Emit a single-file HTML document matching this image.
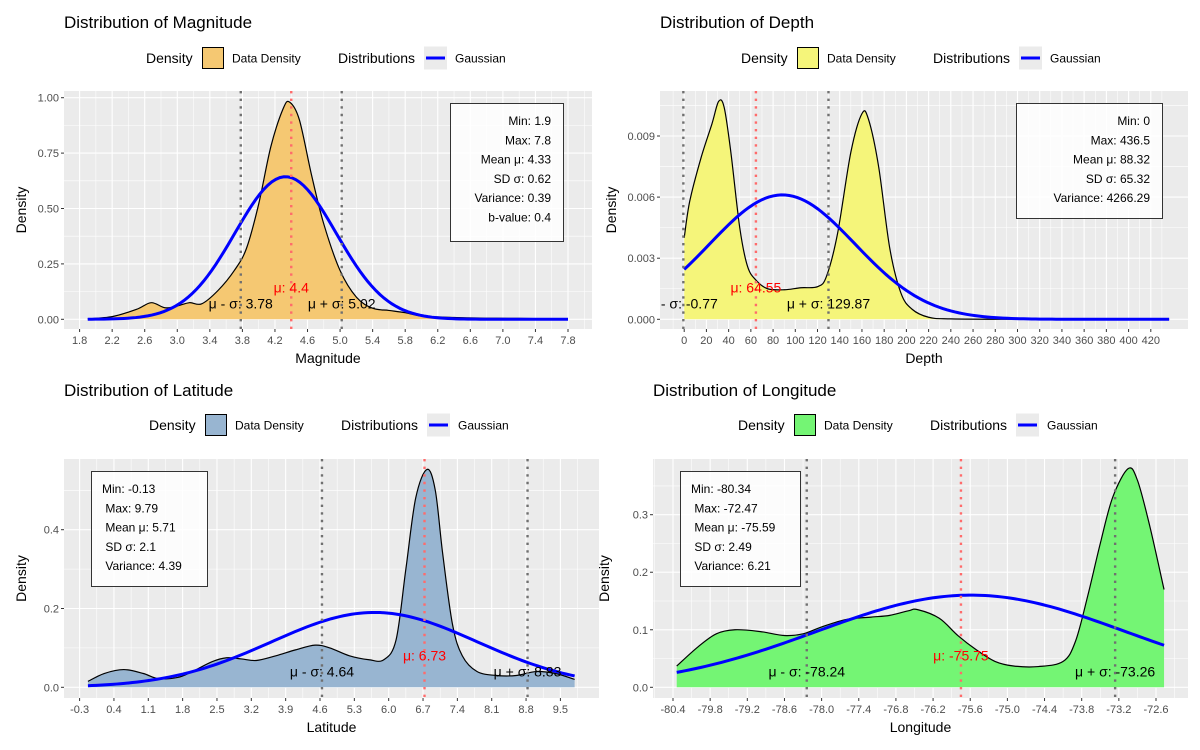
<!DOCTYPE html>
<html><head><meta charset="utf-8"><style>
body{margin:0;background:#fff}
svg{display:block;font-family:"Liberation Sans",sans-serif}
</style></head><body>
<svg id="chart" width="1200" height="750" viewBox="0 0 1200 750"></svg>
<script>
// ---- data ----
const magX=[1.9,2.2,2.5,2.68,2.85,3.0,3.15,3.3,3.5,3.7,3.85,4.0,4.15,4.3,4.38,4.5,4.65,4.8,5.0,5.2,5.4,5.6,5.8,6.0,6.4,6.8,7.2,7.8];
const magY=[0.002,0.012,0.045,0.075,0.052,0.06,0.075,0.07,0.13,0.22,0.32,0.52,0.78,0.95,0.98,0.9,0.65,0.43,0.22,0.1,0.05,0.04,0.03,0.015,0.008,0.005,0.004,0.001];
const magXTicks=[1.8,2.2,2.6,3.0,3.4,3.8,4.2,4.6,5.0,5.4,5.8,6.2,6.6,7.0,7.4,7.8];
const magYTicks=[0,0.25,0.5,0.75,1.0];
const magYLabels=["0.00","0.25","0.50","0.75","1.00"];
const magStats=[4.33,0.62];
const magLines=[3.78,4.4,5.02];
const magBox=["Min: 1.9","Max: 7.8","Mean μ: 4.33","SD σ: 0.62","Variance: 0.39","b-value: 0.4"];

const depX=[0,5,15,25,31,36,42,50,57,65,75,90,105,120,128,138,150,160,166,175,185,195,205,220,240,300,436.5];
const depY=[0.004,0.0058,0.0079,0.0096,0.0107,0.0104,0.0082,0.0045,0.0026,0.0019,0.0015,0.00145,0.00155,0.0016,0.0021,0.0042,0.0082,0.0101,0.0098,0.0075,0.0035,0.0013,0.0005,0.0001,0.00002,0,0];
const depXTicks=[0,20,40,60,80,100,120,140,160,180,200,220,240,260,280,300,320,340,360,380,400,420];
const depYTicks=[0,0.003,0.006,0.009];
const depYLabels=["0.000","0.003","0.006","0.009"];
const depStats=[88.32,65.32];
const depLines=[-0.77,64.55,129.87];
const depBox=["Min: 0","Max: 436.5","Mean μ: 88.32","SD σ: 65.32","Variance: 4266.29"];

const latX=[-0.13,0.2,0.6,1.0,1.3,1.7,2.0,2.4,2.7,3.0,3.3,3.7,4.1,4.5,4.8,5.2,5.6,5.9,6.15,6.35,6.55,6.78,6.95,7.1,7.3,7.5,7.8,8.2,8.6,9.0,9.4,9.79];
const latY=[0.015,0.035,0.045,0.035,0.022,0.025,0.04,0.065,0.075,0.072,0.068,0.08,0.095,0.107,0.1,0.08,0.07,0.07,0.12,0.3,0.48,0.553,0.5,0.34,0.16,0.08,0.04,0.03,0.03,0.04,0.035,0.02];
const latXTicks=[-0.3,0.4,1.1,1.8,2.5,3.2,3.9,4.6,5.3,6.0,6.7,7.4,8.1,8.8,9.5];
const latYTicks=[0,0.2,0.4];
const latYLabels=["0.0","0.2","0.4"];
const latStats=[5.71,2.1];
const latLines=[4.64,6.73,8.83];
const latBox=["Min: -0.13"," Max: 9.79"," Mean μ: 5.71"," SD σ: 2.1"," Variance: 4.39"];

const lonX=[-80.34,-80.0,-79.7,-79.4,-79.0,-78.6,-78.3,-78.0,-77.6,-77.2,-76.9,-76.6,-76.45,-76.1,-75.8,-75.5,-75.2,-74.9,-74.5,-74.1,-73.9,-73.7,-73.5,-73.3,-73.05,-72.9,-72.7,-72.47];
const lonY=[0.037,0.07,0.093,0.1,0.097,0.09,0.093,0.105,0.118,0.122,0.125,0.133,0.135,0.12,0.09,0.065,0.045,0.037,0.036,0.045,0.08,0.16,0.25,0.33,0.38,0.36,0.28,0.17];
const lonXTicks=[-80.4,-79.8,-79.2,-78.6,-78.0,-77.4,-76.8,-76.2,-75.6,-75.0,-74.4,-73.8,-73.2,-72.6];
const lonYTicks=[0,0.1,0.2,0.3];
const lonYLabels=["0.0","0.1","0.2","0.3"];
const lonStats=[-75.59,2.49];
const lonLines=[-78.24,-75.75,-73.26];
const lonBox=["Min: -80.34"," Max: -72.47"," Mean μ: -75.59"," SD σ: 2.49"," Variance: 6.21"];

// ---- layout ----
const panels=[
 {key:"magnitude",title:"Distribution of Magnitude",xt:"Magnitude",fill:"#f5c872",X:magX,Y:magY,xt_:magXTicks,yt:magYTicks,yl:magYLabels,st:magStats,ln:magLines,box:magBox,
  L:64,R:592,T:91,B:329,xv0:1.8,xp0:79.6,xv1:7.8,xp1:568,yp0:319.3,yv1:1.0,yp1:97.7,
  titleX:64,titleY:28,legY:58,legX:146,boxAlign:"right",bx:450,by:103,bw:113,bh:138,fmt:1},
 {key:"depth",title:"Distribution of Depth",xt:"Depth",fill:"#f5f57a",X:depX,Y:depY,xt_:depXTicks,yt:depYTicks,yl:depYLabels,st:depStats,ln:depLines,box:depBox,
  L:660,R:1188,T:91,B:329,xv0:0,xp0:684.2,xv1:420,xp1:1150.8,yp0:319.3,yv1:0.009,yp1:136,
  titleX:660,titleY:28,legY:58,legX:741,boxAlign:"right",bx:1016,by:103,bw:146,bh:115,fmt:2},
 {key:"latitude",title:"Distribution of Latitude",xt:"Latitude",fill:"#98b5d1",X:latX,Y:latY,xt_:latXTicks,yt:latYTicks,yl:latYLabels,st:latStats,ln:latLines,box:latBox,
  L:64,R:599,T:459,B:698,xv0:-0.3,xp0:79.6,xv1:9.5,xp1:560.4,yp0:687.3,yv1:0.4,yp1:529.7,
  titleX:64,titleY:396,legY:425,legX:149,boxAlign:"left",bx:91,by:471,bw:116,bh:115,fmt:1},
 {key:"longitude",title:"Distribution of Longitude",xt:"Longitude",fill:"#74f574",X:lonX,Y:lonY,xt_:lonXTicks,yt:lonYTicks,yl:lonYLabels,st:lonStats,ln:lonLines,box:lonBox,
  L:653,R:1188,T:459,B:698,xv0:-80.4,xp0:673,xv1:-72.6,xp1:1156,yp0:687.3,yv1:0.3,yp1:514.7,
  titleX:653,titleY:396,legY:425,legX:738,boxAlign:"left",bx:680,by:471,bw:120,bh:115,fmt:1}
];

const NS="http://www.w3.org/2000/svg";
const svg=document.getElementById("chart");
function mk(tag,attrs,parent){const e=document.createElementNS(NS,tag);for(const k in attrs)e.setAttribute(k,attrs[k]);(parent||svg).appendChild(e);return e;}
function smooth(pts){let d="M"+pts[0][0].toFixed(2)+","+pts[0][1].toFixed(2);
 for(let i=0;i<pts.length-1;i++){const p0=pts[Math.max(0,i-1)],p1=pts[i],p2=pts[i+1],p3=pts[Math.min(pts.length-1,i+2)];
  const c1=[p1[0]+(p2[0]-p0[0])/6,p1[1]+(p2[1]-p0[1])/6],c2=[p2[0]-(p3[0]-p1[0])/6,p2[1]-(p3[1]-p1[1])/6];
  d+=" C"+c1[0].toFixed(2)+","+c1[1].toFixed(2)+" "+c2[0].toFixed(2)+","+c2[1].toFixed(2)+" "+p2[0].toFixed(2)+","+p2[1].toFixed(2);}
 return d;}

panels.forEach((p,pi)=>{
 const g=mk("g",{});
 
 
 const sx=v=>p.xp0+(v-p.xv0)*(p.xp1-p.xp0)/(p.xv1-p.xv0);
 const sy=v=>p.yp0+(v)*(p.yp1-p.yp0)/(p.yv1);
 // title
 const t=mk("text",{x:p.titleX,y:p.titleY,"font-size":"17","fill":"#000"},g);t.textContent=p.title;
 
 
 // legend
 const lg=mk("g",{},g);
 
 
 let lx=p.legX,ly=p.legY;
 const l1=mk("text",{x:lx,y:ly+5,"font-size":"14"},lg);l1.textContent="Density";
 mk("rect",{x:lx+56.5,y:ly-10.5,width:21,height:21,fill:p.fill,stroke:"#000","stroke-width":"1"},lg);
 const l2=mk("text",{x:lx+86,y:ly+4.5,"font-size":"12"},lg);l2.textContent="Data Density";
 const l3=mk("text",{x:lx+192,y:ly+5,"font-size":"14"},lg);l3.textContent="Distributions";
 mk("rect",{x:lx+278,y:ly-11.5,width:23,height:23,fill:"#ebebeb"},lg);
 mk("line",{x1:lx+280,x2:lx+299,y1:ly,y2:ly,stroke:"#0000ff","stroke-width":"3"},lg);
 const l4=mk("text",{x:lx+309,y:ly+4.5,"font-size":"12"},lg);l4.textContent="Gaussian";
 // panel bg
 mk("rect",{x:p.L,y:p.T,width:p.R-p.L,height:p.B-p.T,fill:"#ebebeb"},g);
 const xs=p.xt_, xstep=xs[1]-xs[0];
 for(let i=-1;i<xs.length;i++){const v=xs[0]+(i+0.5)*xstep;const X=sx(v);if(X>p.L&&X<p.R)mk("line",{x1:X,x2:X,y1:p.T,y2:p.B,stroke:"#fff","stroke-width":"0.55"},g);}
 const ys=p.yt, ystep=ys[1]-ys[0];
 for(let i=-1;i<ys.length;i++){const v=ys[0]+(i+0.5)*ystep;const Y=sy(v);if(Y>p.T&&Y<p.B)mk("line",{x1:p.L,x2:p.R,y1:Y,y2:Y,stroke:"#fff","stroke-width":"0.55"},g);}
 xs.forEach(v=>mk("line",{x1:sx(v),x2:sx(v),y1:p.T,y2:p.B,stroke:"#fff","stroke-width":"1.1"},g));
 ys.forEach(v=>mk("line",{x1:p.L,x2:p.R,y1:sy(v),y2:sy(v),stroke:"#fff","stroke-width":"1.1"},g));
 // clip
 const cp=mk("clipPath",{id:"clip"+pi},g);mk("rect",{x:p.L,y:p.T,width:p.R-p.L,height:p.B-p.T},cp);
 const cg=mk("g",{"clip-path":"url(#clip"+pi+")"},g);
 const pts=p.X.map((x,i)=>[sx(x),sy(p.Y[i])]);
 const curve=smooth(pts);
 const area=mk("path",{d:curve+" L"+sx(p.X[p.X.length-1])+","+sy(0)+" L"+sx(p.X[0])+","+sy(0)+" Z",fill:p.fill,stroke:"none"},cg);
 
 
 const ol=mk("path",{d:curve,fill:"none",stroke:"#000","stroke-width":"1.2"},cg);
 
 
 // gaussian
 const mu=p.st[0],sd=p.st[1],x0=p.X[0],x1=p.X[p.X.length-1];const gp=[];
 for(let i=0;i<=120;i++){const x=x0+(x1-x0)*i/120;const y=Math.exp(-0.5*((x-mu)/sd)**2)/(sd*Math.sqrt(2*Math.PI));gp.push((i?"L":"M")+sx(x).toFixed(2)+","+sy(y).toFixed(2));}
 const gl=mk("path",{d:gp.join(" "),fill:"none",stroke:"#0000ff","stroke-width":"3"},cg);
 
 
 // dotted lines + labels
 const names=["mu-minus-sigma","mu","mu-plus-sigma"];
 p.ln.forEach((v,i)=>{const X=sx(v);
  const dl=mk("line",{x1:X,x2:X,y1:p.T,y2:p.B,stroke:i==1?"#ff6b6b":"#707070","stroke-width":"2.4","stroke-dasharray":"2.4 5.2"},cg);
  
  
  const txt=i==1?"μ: "+v:(i==0?"μ - σ: ":"μ + σ: ")+v;
  const tl=mk("text",{x:X,y:sy(0)-(i==1?27:11),"font-size":"14","text-anchor":"middle",fill:i==1?"#ff0000":"#000"},cg);tl.textContent=txt;
  
  
 });
 // stats box
 const bg=mk("g",{},g);
 
 
 mk("rect",{x:p.bx+0.5,y:p.by+0.5,width:p.bw,height:p.bh,fill:"#fff","fill-opacity":"0.85",stroke:"#333","stroke-width":"1"},bg);
 p.box.forEach((s,i)=>{const right=p.boxAlign=="right";
  const tx=mk("text",{x:right?p.bx+p.bw-12:p.bx+11,y:p.by+22+i*19.3,"font-size":"12","text-anchor":right?"end":"start","xml:space":"preserve"},bg);tx.textContent=s.replace(/^ /,"\u00a0");});
 // axes
 xs.forEach(v=>{const X=sx(v);mk("line",{x1:X,x2:X,y1:p.B,y2:p.B+3,stroke:"#333","stroke-width":"1"},g);
  const tl=mk("text",{x:X,y:p.B+15,"font-size":"11","text-anchor":"middle",fill:"#4d4d4d"},g);
  tl.textContent=p.fmt==2?String(v):(Math.round(v*10)/10).toFixed(1);});
 ys.forEach((v,i)=>{const Y=sy(v);mk("line",{x1:p.L-3,x2:p.L,y1:Y,y2:Y,stroke:"#333","stroke-width":"1"},g);
  const tl=mk("text",{x:p.L-5,y:Y+4,"font-size":"11","text-anchor":"end",fill:"#4d4d4d"},g);tl.textContent=p.yl[i];});
 const xa=mk("text",{x:(p.L+p.R)/2,y:p.B+34,"font-size":"14","text-anchor":"middle"},g);xa.textContent=p.xt;
 
 
 const yx=p.L-(pi%2==0?38:44), ym=(p.T+p.B)/2;
 const ya=mk("text",{x:yx,y:ym,"font-size":"14","text-anchor":"middle",transform:"rotate(-90 "+yx+" "+ym+")"},g);ya.textContent="Density";
 
 
});
</script>
</body></html>
